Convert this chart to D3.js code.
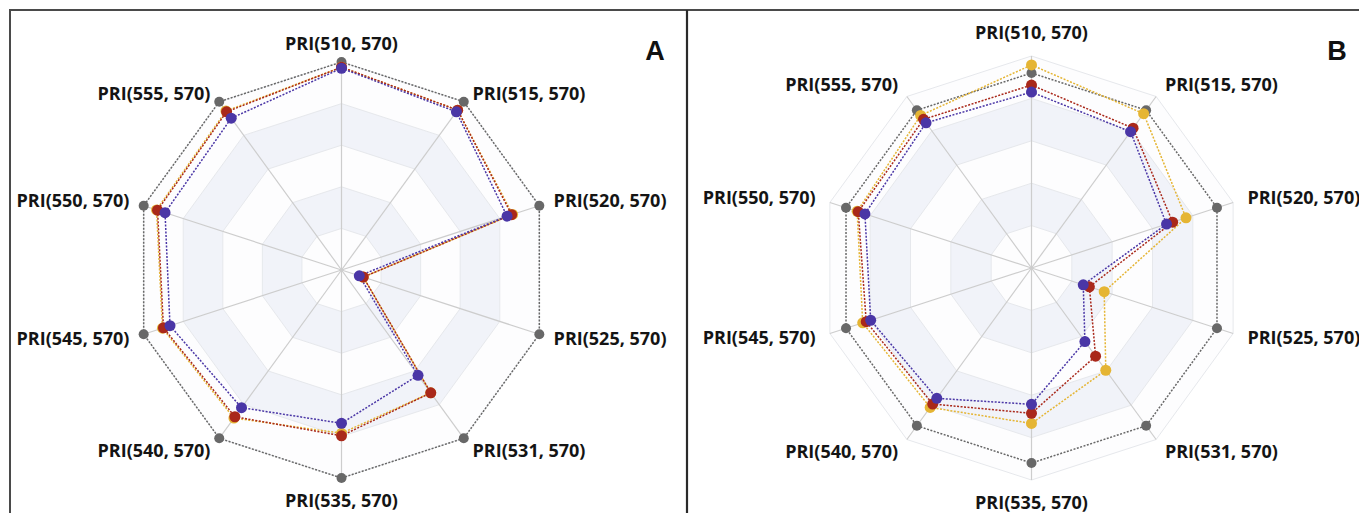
<!DOCTYPE html>
<meta charset="utf-8">
<style>
body { margin: 0; background: white; }
svg { display: block; }
</style>
<body>
<script src="https://cdn.jsdelivr.net/npm/d3@7"></script>
<script>
var axes = ['PRI(510, 570)', 'PRI(515, 570)', 'PRI(520, 570)', 'PRI(525, 570)', 'PRI(531, 570)',
    'PRI(535, 570)', 'PRI(540, 570)', 'PRI(545, 570)', 'PRI(550, 570)', 'PRI(555, 570)']

var seriesKeys = ['grey', 'yellow', 'red', 'blue']

// panel A values, grey series is the reference (1.0)
var greyA = [1, 1, 1, 1, 1, 1, 1, 1, 1, 1]
var yellowA = [0.975, 0.95, 0.865, 0.11, 0.73, 0.785, 0.88, 0.905, 0.935, 0.945]
var redA = [0.975, 0.95, 0.86, 0.11, 0.73, 0.797, 0.872, 0.9, 0.93, 0.94]
var blueA = [0.97, 0.94, 0.837, 0.09, 0.626, 0.737, 0.818, 0.867, 0.892, 0.902]

// panel B values
var greyB = [1, 1, 1, 1, 1, 1, 1, 1, 1, 1]
var yellowB = [1.041, 0.978, 0.833, 0.392, 0.648, 0.797, 0.884, 0.91, 0.94, 0.967]
var redB = [0.938, 0.886, 0.761, 0.312, 0.559, 0.745, 0.862, 0.891, 0.934, 0.942]
var blueB = [0.902, 0.864, 0.728, 0.279, 0.466, 0.699, 0.826, 0.867, 0.898, 0.92]

var panelLetters = ['A', 'B']
var axisMax = [1, 1.087]

var colors = { grey: '#686868', yellow: '#e5b534', red: '#a9281a', blue: '#4a36a6' }

var width = 1359
var height = 513
var levels = 5

var svg = d3.select('body').append('svg')
    .attr('width', width)
    .attr('height', height)

// frame
svg.append('rect')
    .attr('x', 10).attr('y', 10)
    .attr('width', width + 20).attr('height', height + 20)
    .attr('fill', 'none').attr('stroke', '#4a4a4a').attr('stroke-width', 2)
svg.append('line')
    .attr('x1', 687).attr('x2', 687).attr('y1', 10).attr('y2', height)
    .attr('stroke', '#2a2a2a').attr('stroke-width', 2.2)

// topShift / diagShift nudge the upper labels the way the original sits
var panels = [
    { cx: 341.5, cy: 270, R: 208, letterX: 655, topShift: -3, diagShift: 4, data: [greyA, yellowA, redA, blueA] },
    { cx: 1031.5, cy: 268, R: 212, letterX: 1337, topShift: -8, diagShift: 0, data: [greyB, yellowB, redB, blueB] }
]

var angle = d3.scaleLinear().domain([0, axes.length]).range([0, 2 * Math.PI])

panels.forEach(function (p, pi) {
    var r = d3.scaleLinear().domain([0, axisMax[pi]]).range([0, p.R])
    var g = svg.append('g').attr('transform', 'translate(' + p.cx + ',' + p.cy + ')')

    function ring(rad) {
        return axes.map(function (a, i) {
            return [Math.sin(angle(i)) * rad, -Math.cos(angle(i)) * rad]
        })
    }

    function polyPath(pts) {
        return 'M' + pts.map(function (d) { return d.join(',') }).join('L') + 'Z'
    }

    // split areas
    d3.range(levels).forEach(function (l) {
        var outer = ring(p.R * (l + 1) / levels)
        var inner = ring(p.R * l / levels)
        g.append('path')
            .attr('d', polyPath(outer) + (l > 0 ? polyPath(inner.slice().reverse()) : ''))
            .attr('fill', l % 2 === 1 ? '#f1f3f9' : '#fdfdfe')
    })

    // split lines
    d3.range(1, levels + 1).forEach(function (l) {
        g.append('path')
            .attr('d', polyPath(ring(p.R * l / levels)))
            .attr('fill', 'none')
            .attr('stroke', '#e6e8ec')
            .attr('stroke-width', 1)
    })

    // axis lines
    g.selectAll('.axis').data(axes).enter().append('line')
        .attr('x1', 0).attr('y1', 0)
        .attr('x2', function (d, i) { return Math.sin(angle(i)) * p.R })
        .attr('y2', function (d, i) { return -Math.cos(angle(i)) * p.R })
        .attr('stroke', '#cdcdcd')
        .attr('stroke-width', 1.2)

    // labels
    g.selectAll('.lab').data(axes).enter().append('text')
        .attr('x', function (d, i) { return Math.sin(angle(i)) * (p.R + 15) })
        .attr('y', function (d, i) {
            var y = -Math.cos(angle(i)) * (p.R + 15)
            if (i === 0) return y + p.topShift
            if (i === 5) return y + 8
            if (i === 1 || i === 9) return y + p.diagShift
            return y
        })
        .attr('dy', '0.35em')
        .attr('text-anchor', function (d, i) {
            var s = Math.sin(angle(i))
            if (Math.abs(s) < 0.01) return 'middle'
            return s > 0 ? 'start' : 'end'
        })
        .style('font-family', '"Open Sans", sans-serif')
        .style('font-weight', 700)
        .style('font-size', '18px')
        .attr('fill', '#141414')
        .text(function (d) { return d })

    var line = d3.lineRadial()
        .angle(function (d, i) { return angle(i) })
        .radius(function (d) { return r(d) })
        .curve(d3.curveLinearClosed)

    p.data.forEach(function (vals, si) {
        var key = seriesKeys[si]
        g.append('path')
            .attr('d', line(vals))
            .attr('fill', 'none')
            .attr('stroke', colors[key])
            .attr('stroke-width', 1.5)
            .attr('stroke-dasharray', '2,1.5')
    })

    p.data.forEach(function (vals, si) {
        var key = seriesKeys[si]
        g.selectAll('.dot' + si).data(vals).enter().append('circle')
            .attr('cx', function (d, i) { return Math.sin(angle(i)) * r(d) })
            .attr('cy', function (d, i) { return -Math.cos(angle(i)) * r(d) })
            .attr('r', key === 'grey' ? 5 : 5.5)
            .attr('fill', colors[key])
    })

    svg.append('text')
        .attr('x', p.letterX)
        .attr('y', 50)
        .attr('dy', '0.36em')
        .attr('text-anchor', 'middle')
        .style('font-family', '"Liberation Sans", Arial, sans-serif')
        .style('font-weight', 700)
        .style('font-size', '27px')
        .attr('fill', '#111')
        .text(panelLetters[pi])
})
</script>
</body>
